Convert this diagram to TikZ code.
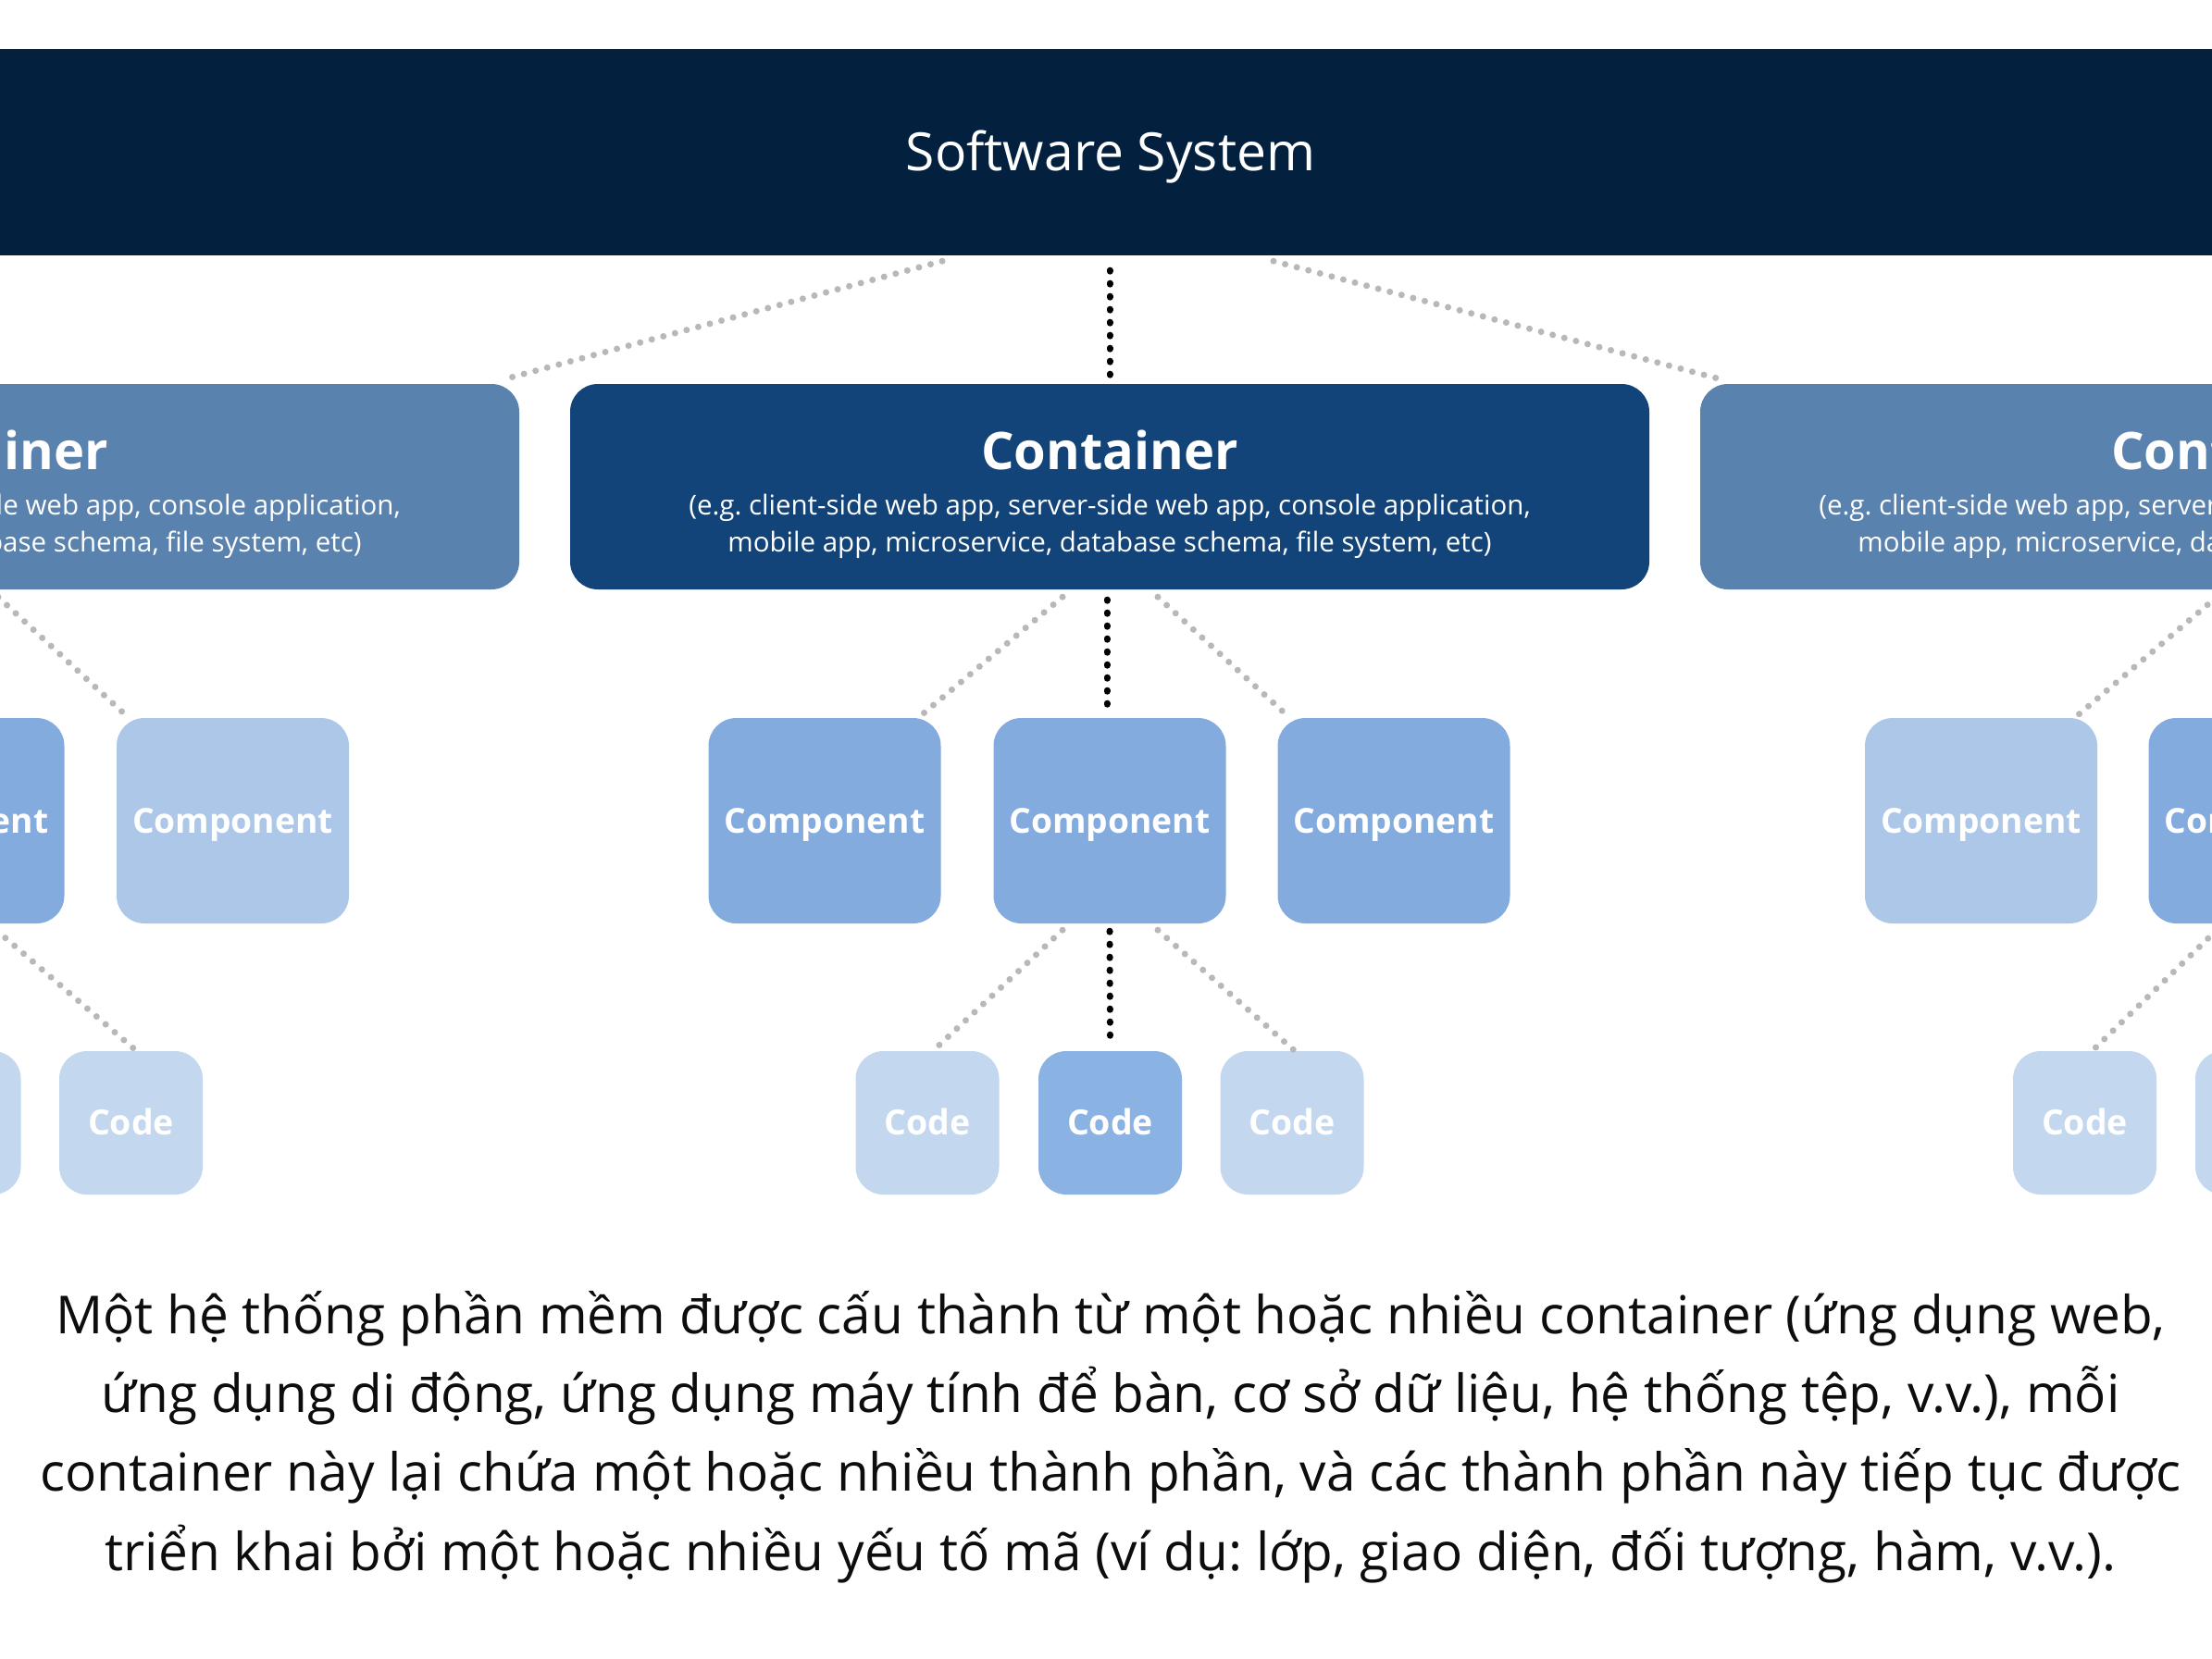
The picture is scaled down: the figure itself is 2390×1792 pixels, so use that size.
\documentclass[tikz,border=0pt]{standalone}
\usepackage{fontspec}
\setmainfont{Open Sans}
\usetikzlibrary{calc}
\frenchspacing
\definecolor{sysblue}{HTML}{03213F}
\definecolor{contdark}{HTML}{134479}
\definecolor{contside}{HTML}{5A82AE}
\definecolor{compmid}{HTML}{83ABDD}
\definecolor{compfade}{HTML}{ACC7E7}
\definecolor{codemid}{HTML}{8AB3E4}
\definecolor{codefade}{HTML}{C3D7EE}
\definecolor{dotgray}{HTML}{B8B8B8}
\definecolor{textblack}{HTML}{0D0D0D}
\begin{document}
\begin{tikzpicture}[x=1pt,y=-1pt,
  box/.style={rectangle, rounded corners=30pt, inner sep=0pt, draw=none},
  contbox/.style={box, minimum width=1166pt, minimum height=222pt},
  compbox/.style={box, minimum width=251pt, minimum height=222pt, text=white,
    font=\bfseries\fontsize{37.2}{45}\selectfont, text height=26.6pt, text depth=0pt},
  codebox/.style={box, minimum width=155pt, minimum height=155pt, text=white,
    font=\bfseries\fontsize{37.5}{45}\selectfont, text height=26.8pt, text depth=0pt},
  systitle/.style={anchor=base, text=white, inner sep=0pt, font=\fontsize{57}{68}\selectfont},
  ctitle/.style={anchor=base, text=white, inner sep=0pt, font=\bfseries\fontsize{56}{67}\selectfont},
  csub/.style={anchor=base, text=white, inner sep=0pt, font=\fontsize{29.5}{40}\selectfont},
  para/.style={anchor=base, text=textblack, inner sep=0pt, font=\fontsize{56.7}{85}\selectfont},
  graydots/.style={draw=dotgray, line width=7pt, line cap=round, dash pattern=on 0pt off 13pt},
  blackdots/.style={draw=black, line width=7pt, line cap=round, dash pattern=on 1pt off 13pt}
]
\useasboundingbox (0,0) rectangle (2390,1792);
\fill[white] (0,0) rectangle (2390,1792);
\clip (0,0) rectangle (2390,1792);

% software system band
\node[fill=sysblue, minimum width=2440pt, minimum height=223pt, inner sep=0pt] (sys) at (1199,164.5) {};
\node[systitle] (systext) at (1200,184) {Software System};

% containers
\node[contbox, fill=contside] (lc) at (-22,526) {};
\node[contbox, fill=contdark] (cc) at (1199,526) {};
\node[contbox, fill=contside] (rc) at (2420,526) {};
\foreach \c in {lc,cc,rc}{
  \node[ctitle] (\c t) at ($(\c.center)+(0,-19)$) {Container};
  \node[csub] (\c a) at ($(\c.center)+(0,30)$) {(e.g. client-side web app, server-side web app, console application,};
  \node[csub] (\c b) at ($(\c.center)+(0,70)$) {mobile app, microservice, database schema, file system, etc)};
}

% components
\node[compbox, fill=compmid] (lp1) at (-56,887) {Component};
\node[compbox, fill=compfade] (lp2) at (251.5,887) {Component};
\node[compbox, fill=compmid] (p1) at (891,887) {Component};
\node[compbox, fill=compmid] (p2) at (1199,887) {Component};
\node[compbox, fill=compmid] (p3) at (1506,887) {Component};
\node[compbox, fill=compfade] (rp1) at (2140.5,887) {Component};
\node[compbox, fill=compmid] (rp2) at (2447,887) {Component};

% code
\node[codebox, fill=codefade] (lk1) at (-55,1213.5) {Code};
\node[codebox, fill=codefade] (lk2) at (141.5,1213.5) {Code};
\node[codebox, fill=codefade] (k1) at (1002,1213.5) {Code};
\node[codebox, fill=codemid] (k2) at (1199.5,1213.5) {Code};
\node[codebox, fill=codefade] (k3) at (1396,1213.5) {Code};
\node[codebox, fill=codefade] (rk1) at (2252.5,1213.5) {Code};
\node[codebox, fill=codefade] (rk2) at (2449.5,1213.5) {Code};

% connectors
\draw[blackdots] ($(sys.south)+(0,16)$) -- ($(cc.north)+(0,-8)$);
\draw[graydots] ($(sys.south)+(-181,6)$) -- ($(lc.north east)+(-20,-4)$);
\draw[graydots] ($(sys.south)+(177,6)$) -- ($(rc.north west)+(26,-4)$);
\draw[graydots] ($(cc.south)+(-51,8)$) -- ($(p1.north east)+(-21,-3)$);
\draw[blackdots] ($(cc.south)+(-3,11)$) -- ($(p2.north)+(-3,-9)$);
\draw[graydots] ($(cc.south)+(52,8)$) -- ($(p3.north west)+(10,-3)$);
\draw[graydots] ($(p2.south)+(-51,7)$) -- ($(k1.north)+(6,0)$);
\draw[blackdots] ($(p2.south)+(0,8)$) -- ($(k2.north)+(0,-5)$);
\draw[graydots] ($(p2.south)+(52,7)$) -- ($(k3.north)+(3,0)$);
\draw[graydots] ($(lc.south)+(20,8)$) -- ($(lp2.north west)+(11,-2)$);
\draw[graydots] ($(lp1.south)+(52,7)$) -- ($(lk2.north)+(6,0)$);
\draw[graydots] ($(rc.south)+(-25,8)$) -- ($(rp1.north east)+(-21,-3)$);
\draw[graydots] ($(rp2.south)+(-52,7)$) -- ($(rk1.north)+(8,0)$);

% caption
\node[para] (l1) at (1200,1441) {Một hệ thống phần mềm được cấu thành từ một hoặc nhiều container (ứng dụng web,};
\node[para] (l2) at (1200,1526) {ứng dụng di động, ứng dụng máy tính để bàn, cơ sở dữ liệu, hệ thống tệp, v.v.), mỗi};
\node[para] (l3) at (1200,1611) {container này lại chứa một hoặc nhiều thành phần, và các thành phần này tiếp tục được};
\node[para] (l4) at (1200,1697) {triển khai bởi một hoặc nhiều yếu tố mã (ví dụ: lớp, giao diện, đối tượng, hàm, v.v.).};
\end{tikzpicture}
\end{document}
